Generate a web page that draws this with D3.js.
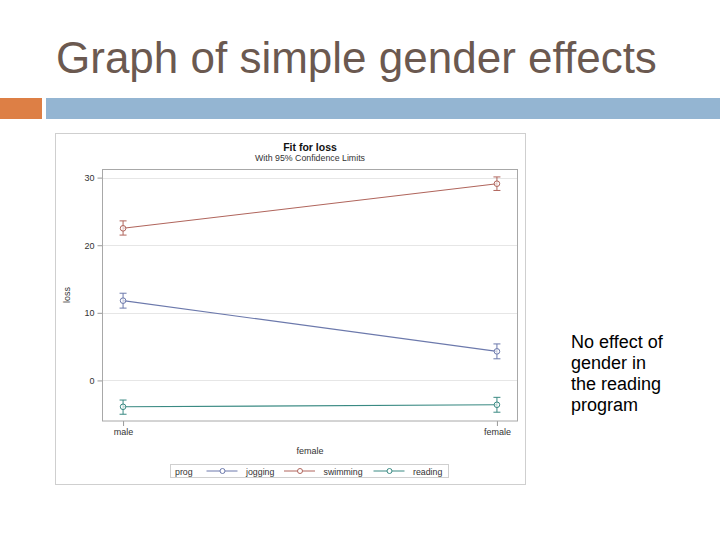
<html>
<head>
<meta charset="utf-8">
<style>
  body { margin: 0; background: #fff; }
  text { font-family: "Liberation Sans", Arial, sans-serif; }
</style>
</head>
<body>
<script src="https://cdnjs.cloudflare.com/ajax/libs/d3/7.8.5/d3.min.js"></script>
<div id="main"></div>
<script>
    // data
    var categories = ["male", "female"];
    var progs = ["jogging", "swimming", "reading"];
    var joggingFit = [11.8, 4.3];
    var joggingLower = [10.7, 3.2];
    var joggingUpper = [12.9, 5.4];
    var swimmingFit = [22.5, 29.1];
    var swimmingLower = [21.5, 28.1];
    var swimmingUpper = [23.6, 30.1];
    var readingFit = [-3.9, -3.6];
    var readingLower = [-5.0, -4.7];
    var readingUpper = [-2.9, -2.5];
    var yTicks = [0, 10, 20, 30];
    var noteLines = ["No effect of", "gender in", "the reading", "program"];

    var colors = { jogging: "#6c79ac", swimming: "#b0655c", reading: "#3a8a83" };

    var series = [
        { prog: "jogging", fit: joggingFit, lo: joggingLower, hi: joggingUpper },
        { prog: "swimming", fit: swimmingFit, lo: swimmingLower, hi: swimmingUpper },
        { prog: "reading", fit: readingFit, lo: readingLower, hi: readingUpper }
    ];

    var svg = d3.select("#main").append("svg")
        .attr("width", 720)
        .attr("height", 540);

    // slide title
    svg.append("text")
        .attr("x", 56)
        .attr("y", 73)
        .style("font-size", "44px")
        .style("fill", "#6b5950")
        .text("Graph of simple gender effects");

    // slide bars
    svg.append("rect").attr("x", 0).attr("y", 98).attr("width", 42).attr("height", 21).style("fill", "#dd7f45");
    svg.append("rect").attr("x", 46).attr("y", 98).attr("width", 674).attr("height", 21).style("fill", "#94b5d2");

    // chart frame
    svg.append("rect")
        .attr("x", 55.5).attr("y", 133.5)
        .attr("width", 470).attr("height", 351)
        .style("fill", "white")
        .style("stroke", "#cfcfcf");

    svg.append("text")
        .attr("x", 310).attr("y", 150.5)
        .style("text-anchor", "middle")
        .style("font-size", "10.5px")
        .style("font-weight", "bold")
        .style("fill", "#111")
        .text("Fit for loss");
    svg.append("text")
        .attr("x", 310).attr("y", 161)
        .style("text-anchor", "middle")
        .style("font-size", "8.8px")
        .style("fill", "#333")
        .text("With 95% Confidence Limits");

    var plot = { left: 102.5, right: 517.5, top: 169.5, bottom: 421 };

    var x = d3.scalePoint()
        .domain(categories)
        .range([plot.left, plot.right])
        .padding(0.055);

    var y = d3.scaleLinear()
        .domain([-6.0, 31.2])
        .range([plot.bottom, plot.top]);

    // grid lines
    svg.append("g")
        .selectAll("line")
        .data(yTicks)
        .enter()
        .append("line")
        .attr("x1", plot.left).attr("x2", plot.right)
        .attr("y1", function (d) { return Math.round(y(d)) + 0.5; })
        .attr("y2", function (d) { return Math.round(y(d)) + 0.5; })
        .style("stroke", "#e6e6e6");

    // y axis
    var yAxis = svg.append("g")
        .attr("transform", "translate(" + plot.left + ",0)")
        .call(d3.axisLeft(y).tickValues(yTicks).tickSize(5).tickPadding(3));
    yAxis.select(".domain").remove();
    yAxis.selectAll(".tick line").attr("stroke", "#999");
    yAxis.selectAll(".tick text")
        .style("font-size", "9px")
        .style("font-family", "'Liberation Sans', Arial, sans-serif")
        .style("fill", "#333");

    // x axis
    var xAxis = svg.append("g")
        .attr("transform", "translate(0," + plot.bottom + ")")
        .call(d3.axisBottom(x).tickSize(5).tickPadding(3));
    xAxis.select(".domain").remove();
    xAxis.selectAll(".tick line").attr("stroke", "#999");
    xAxis.selectAll(".tick text")
        .style("font-size", "9px")
        .style("font-family", "'Liberation Sans', Arial, sans-serif")
        .style("fill", "#333");

    // plot wall border
    svg.append("rect")
        .attr("x", plot.left).attr("y", plot.top)
        .attr("width", plot.right - plot.left).attr("height", plot.bottom - plot.top)
        .style("fill", "none")
        .style("stroke", "#a8a8a8");

    // axis labels
    svg.append("text")
        .attr("x", 310).attr("y", 454)
        .style("text-anchor", "middle")
        .style("font-size", "9px")
        .style("fill", "#333")
        .text("female");
    svg.append("text")
        .attr("transform", "rotate(-90)")
        .attr("x", -295).attr("y", 70)
        .style("text-anchor", "middle")
        .style("font-size", "9px")
        .style("fill", "#333")
        .text("loss");

    // fit lines, error bars, markers
    var line = d3.line()
        .x(function (d, i) { return x(categories[i]); })
        .y(function (d) { return y(d); });

    var groups = svg.append("g")
        .selectAll("g")
        .data(series)
        .enter()
        .append("g");

    groups.append("path")
        .attr("d", function (s) { return line(s.fit); })
        .style("fill", "none")
        .style("stroke", function (s) { return colors[s.prog]; })
        .style("stroke-width", 1.1);

    groups.each(function (s) {
        var g = d3.select(this);
        var c = colors[s.prog];
        categories.forEach(function (cat, i) {
            var cx = x(cat);
            g.append("line")
                .attr("x1", cx).attr("x2", cx)
                .attr("y1", y(s.lo[i])).attr("y2", y(s.hi[i]))
                .style("stroke", c);
            [s.lo[i], s.hi[i]].forEach(function (v) {
                g.append("line")
                    .attr("x1", cx - 3.5).attr("x2", cx + 3.5)
                    .attr("y1", y(v)).attr("y2", y(v))
                    .style("stroke", c);
            });
            g.append("circle")
                .attr("cx", cx).attr("cy", y(s.fit[i]))
                .attr("r", 2.8)
                .style("fill", "white")
                .style("fill-opacity", 0.6)
                .style("stroke", c);
        });
    });

    // legend
    svg.append("rect")
        .attr("x", 170.5).attr("y", 464.5)
        .attr("width", 278).attr("height", 13)
        .style("fill", "white")
        .style("stroke", "#cfcfcf");
    svg.append("text")
        .attr("x", 175).attr("y", 474.5)
        .style("font-size", "8.8px")
        .style("fill", "#333")
        .text("prog");

    var legendX = { jogging: 206.5, swimming: 284, reading: 373.5 };
    progs.forEach(function (p) {
        var lx = legendX[p];
        svg.append("line")
            .attr("x1", lx).attr("x2", lx + 31)
            .attr("y1", 471).attr("y2", 471)
            .style("stroke", colors[p]);
        svg.append("circle")
            .attr("cx", lx + 16).attr("cy", 471).attr("r", 2.5)
            .style("fill", "white")
            .style("stroke", colors[p]);
        svg.append("text")
            .attr("x", lx + 39.5).attr("y", 474.5)
            .style("font-size", "8.8px")
            .style("fill", "#333")
            .text(p);
    });

    // side note
    svg.append("g")
        .selectAll("text")
        .data(noteLines)
        .enter()
        .append("text")
        .attr("x", 571)
        .attr("y", function (d, i) { return 348 + i * 21; })
        .style("font-size", "18px")
        .style("fill", "#000")
        .text(function (d) { return d; });
</script>
</body>
</html>
